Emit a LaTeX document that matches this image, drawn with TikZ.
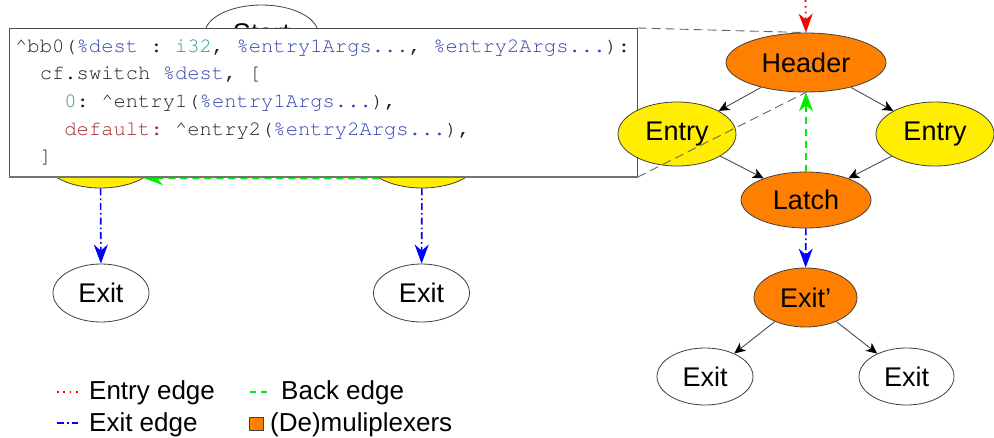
\documentclass[tikz,border=0pt]{standalone}
\usepackage[T1]{fontenc}
\usepackage{fontspec}
\setmainfont{Liberation Sans}
\usetikzlibrary{arrows.meta,shapes.geometric}

\definecolor{muxorange}{HTML}{FF8000}
\definecolor{entryyellow}{HTML}{FFEE00}
\definecolor{edgered}{HTML}{FF0000}
\definecolor{edgeblue}{HTML}{0000FF}
\definecolor{edgegreen}{HTML}{00EE00}
\definecolor{cvar}{HTML}{3345AE}
\definecolor{ctype}{HTML}{1E9A96}
\definecolor{cnum}{HTML}{2E9A6A}
\definecolor{ckey}{HTML}{A02828}
\definecolor{ctext}{HTML}{202020}

% Courier-like typewriter face for the IR listing
\newcommand\codefont{\fontencoding{T1}\fontfamily{pcr}\fontsize{20.5}{24}\selectfont\frenchspacing}
\newcommand\cv[1]{\textcolor{cvar}{#1}}

\begin{document}
\begin{tikzpicture}[x=1pt,y=-1pt,
  blk/.style 2 args={ellipse, draw=black!75, line width=0.8pt, inner sep=0pt,
    minimum width=#1, minimum height=#2, font=\fontsize{27}{30}\selectfont},
  plain/.style={fill=white},
  entrynode/.style={fill=entryyellow},
  muxnode/.style={fill=muxorange},
  flow/.style={draw=black!70, line width=0.9pt,
    -{Stealth[length=11pt,width=10pt,inset=3pt,color=black]}},
  entryedge/.style={draw=edgered, line width=1.8pt, dash pattern=on 1.8pt off 4pt,
    -{Stealth[length=19pt,width=14pt,inset=6pt,color=edgered]}},
  exitedge/.style={draw=edgeblue, line width=1.6pt, dash pattern=on 7pt off 3pt on 1.6pt off 3pt,
    -{Stealth[length=19pt,width=14pt,inset=6pt,color=edgeblue]}},
  backedge/.style={draw=edgegreen, line width=1.6pt, dash pattern=on 7pt off 5pt,
    -{Stealth[length=19pt,width=14pt,inset=6pt,color=edgegreen]}},
  zoomline/.style={draw=black!60, line width=0.9pt, dash pattern=on 9pt off 5pt},
  codeline/.style={anchor=base west, inner sep=0pt, font=\codefont, text=ctext},
  legendtext/.style={anchor=base west, inner sep=0pt, font=\fontsize{26}{30}\selectfont},
]
\useasboundingbox (0,0) rectangle (994,437);

% ---- original loop (left) ----
\node[blk={113pt}{57pt}, plain] (start) at (261.5,33.5) {Start};
\node[blk={118pt}{64pt}, entrynode] (lentry) at (100.5,156) {Entry};
\node[blk={118pt}{64pt}, entrynode] (rentry) at (422,156) {Entry};
\node[blk={96pt}{58pt}, plain] (lexit) at (101,293) {Exit};
\node[blk={96pt}{58pt}, plain] (rexit) at (421.5,293) {Exit};

\draw[exitedge] (lentry) -- (lexit);
\draw[exitedge] (rentry) -- (rexit);
\draw[backedge] (rentry.-152.8) -- (lentry.-27.2);

% ---- listing of the dispatching block ----
\node[rectangle, draw=black!70, fill=white, line width=1.1pt, inner sep=0pt,
      minimum width=628pt, minimum height=148pt, anchor=north west] (code) at (8.5,28) {};
\draw[black!55, line width=1.8pt] (code.south west) -- (code.south east);
\node[codeline] (c1) at (15,52)
  {\textasciicircum bb0(\cv{\%dest} : \textcolor{ctype}{i32}, \cv{\%entry1Args...}, \cv{\%entry2Args...}):};
\node[codeline] (c2) at (39.6,79.7) {cf.switch \cv{\%dest}, [};
\node[codeline] (c3) at (64.2,107.4)
  {\textcolor{cnum}{0}: \textasciicircum entry1(\cv{\%entry1Args...}),};
\node[codeline] (c4) at (64.2,135.1)
  {\textcolor{ckey}{default:} \textasciicircum entry2(\cv{\%entry2Args...}),};
\node[codeline] (c5) at (39.6,162.5) {]};

% ---- transformed loop (right) ----
\coordinate (in) at (805.5,0);
\node[blk={160pt}{59pt}, muxnode] (header) at (806,62.5) {Header};
\node[blk={118pt}{64pt}, entrynode] (entryA) at (677,134) {Entry};
\node[blk={118pt}{64pt}, entrynode] (entryB) at (935,134) {Entry};
\node[blk={130pt}{56pt}, muxnode] (latch) at (806,200) {Latch};
\node[blk={103pt}{59pt}, muxnode] (exitp) at (805.5,297.5) {Exit’};
\node[blk={96pt}{57pt}, plain] (exitA) at (705,376.5) {Exit};
\node[blk={95pt}{57pt}, plain] (exitB) at (906.5,376.5) {Exit};

\draw[entryedge] (in) -- (header.north);
\draw[flow] (header) -- (entryA);
\draw[flow] (header) -- (entryB);
\draw[flow] (entryA) -- (latch);
\draw[flow] (entryB) -- (latch);
\draw[backedge] (latch) -- (header);
\draw[exitedge] (latch) -- (exitp);
\draw[flow] (exitp) -- (exitA);
\draw[flow] (exitp) -- (exitB);

% callout lines tying the listing to the header block
\draw[zoomline] (code.north east) -- (header.north);
\draw[zoomline] (code.south east) -- (header.south);

% ---- legend ----
\coordinate (lgA1) at (57,392);  \coordinate (lgA2) at (78,392);
\coordinate (lgB1) at (250,392); \coordinate (lgB2) at (271,392);
\coordinate (lgC1) at (57,423);  \coordinate (lgC2) at (78,423);
\draw[draw=edgered, line width=1.8pt, dash pattern=on 1.8pt off 4.5pt] (lgA1) -- (lgA2);
\draw[draw=edgegreen, line width=1.6pt, dash pattern=on 6pt off 5pt] (lgB1) -- (lgB2);
\draw[draw=edgeblue, line width=1.6pt, dash pattern=on 7pt off 3pt on 1.6pt off 3pt] (lgC1) -- (lgC2);
\node[legendtext] (lgAt) at (89,399) {Entry edge};
\node[legendtext] (lgBt) at (281,399) {Back edge};
\node[legendtext] (lgCt) at (89,431) {Exit edge};
\node[rectangle, draw=black!75, fill=muxorange, line width=0.8pt, inner sep=0pt,
      minimum width=14pt, minimum height=13pt] (lgD) at (256,423.5) {};
\node[legendtext] (lgDt) at (270,431) {(De)muliplexers};
\end{tikzpicture}
\end{document}
